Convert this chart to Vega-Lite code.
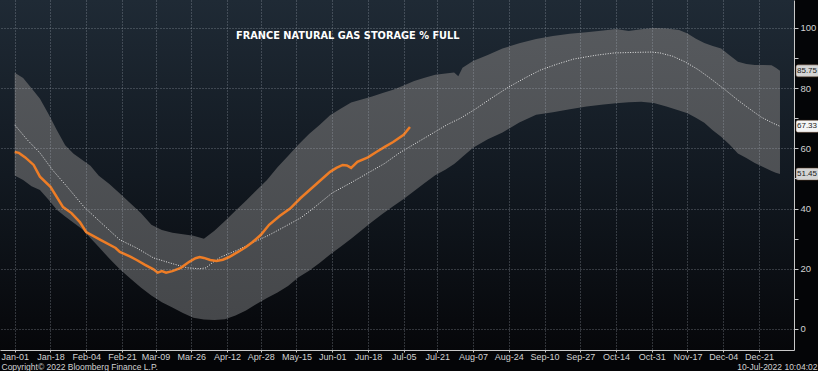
{
  "$schema": "https://vega.github.io/schema/vega-lite/v6.json",
  "width": 794,
  "height": 350,
  "autosize": "none",
  "padding": {"left": 0, "top": 0, "right": 24, "bottom": 21},
  "background": "#040507",
  "config": {"view": {"stroke": null}, "font": "DejaVu Sans"},
  "title": {
    "text": "FRANCE NATURAL GAS STORAGE % FULL",
    "anchor": "start",
    "frame": "group",
    "orient": "top",
    "dx": 236,
    "offset": -49,
    "baseline": "alphabetic",
    "font": "DejaVu Sans",
    "fontSize": 9.8,
    "fontWeight": "bold",
    "color": "#ffffff"
  },
  "datasets": {
    "band": [
      {"date": "2022/01/01", "lo": 51.0, "hi": 85.1},
      {"date": "2022/01/05", "lo": 49.5, "hi": 83.4},
      {"date": "2022/01/09", "lo": 47.4, "hi": 80.0},
      {"date": "2022/01/13", "lo": 46.2, "hi": 76.5},
      {"date": "2022/01/17", "lo": 43.0, "hi": 71.5},
      {"date": "2022/01/21", "lo": 39.6, "hi": 66.1},
      {"date": "2022/01/25", "lo": 37.4, "hi": 61.0},
      {"date": "2022/01/29", "lo": 35.3, "hi": 58.2},
      {"date": "2022/02/02", "lo": 33.2, "hi": 56.2},
      {"date": "2022/02/06", "lo": 30.2, "hi": 54.2},
      {"date": "2022/02/10", "lo": 27.2, "hi": 50.9},
      {"date": "2022/02/15", "lo": 23.4, "hi": 48.2},
      {"date": "2022/02/20", "lo": 19.8, "hi": 45.0},
      {"date": "2022/02/25", "lo": 16.8, "hi": 41.8},
      {"date": "2022/03/02", "lo": 13.8, "hi": 38.5},
      {"date": "2022/03/07", "lo": 11.1, "hi": 34.6},
      {"date": "2022/03/12", "lo": 8.9, "hi": 32.9},
      {"date": "2022/03/17", "lo": 7.1, "hi": 32.0},
      {"date": "2022/03/22", "lo": 5.3, "hi": 31.5},
      {"date": "2022/03/27", "lo": 3.7, "hi": 31.0},
      {"date": "2022/04/01", "lo": 3.1, "hi": 30.0},
      {"date": "2022/04/06", "lo": 3.0, "hi": 32.6},
      {"date": "2022/04/11", "lo": 3.2, "hi": 35.9},
      {"date": "2022/04/16", "lo": 4.5, "hi": 39.3},
      {"date": "2022/04/21", "lo": 6.1, "hi": 42.6},
      {"date": "2022/04/26", "lo": 8.3, "hi": 46.1},
      {"date": "2022/05/01", "lo": 10.3, "hi": 49.5},
      {"date": "2022/05/06", "lo": 12.1, "hi": 53.7},
      {"date": "2022/05/11", "lo": 14.3, "hi": 57.5},
      {"date": "2022/05/16", "lo": 17.2, "hi": 61.3},
      {"date": "2022/05/21", "lo": 19.3, "hi": 64.8},
      {"date": "2022/05/26", "lo": 21.9, "hi": 67.8},
      {"date": "2022/05/31", "lo": 24.7, "hi": 71.0},
      {"date": "2022/06/05", "lo": 27.3, "hi": 73.2},
      {"date": "2022/06/10", "lo": 30.0, "hi": 75.2},
      {"date": "2022/06/15", "lo": 32.8, "hi": 76.2},
      {"date": "2022/06/20", "lo": 35.6, "hi": 77.2},
      {"date": "2022/06/25", "lo": 38.3, "hi": 78.4},
      {"date": "2022/06/30", "lo": 40.8, "hi": 79.5},
      {"date": "2022/07/05", "lo": 43.2, "hi": 80.9},
      {"date": "2022/07/10", "lo": 45.8, "hi": 82.4},
      {"date": "2022/07/15", "lo": 48.5, "hi": 83.5},
      {"date": "2022/07/20", "lo": 51.1, "hi": 84.5},
      {"date": "2022/07/25", "lo": 53.0, "hi": 84.9},
      {"date": "2022/07/29", "lo": 54.8, "hi": 85.2},
      {"date": "2022/07/31", "lo": 56.0, "hi": 84.0},
      {"date": "2022/08/02", "lo": 57.2, "hi": 86.8},
      {"date": "2022/08/07", "lo": 60.2, "hi": 89.0},
      {"date": "2022/08/14", "lo": 63.0, "hi": 91.0},
      {"date": "2022/08/21", "lo": 65.3, "hi": 93.2},
      {"date": "2022/08/29", "lo": 68.6, "hi": 94.9},
      {"date": "2022/09/06", "lo": 71.2, "hi": 96.3},
      {"date": "2022/09/14", "lo": 72.0, "hi": 97.3},
      {"date": "2022/09/22", "lo": 73.0, "hi": 98.1},
      {"date": "2022/09/30", "lo": 73.9, "hi": 98.6},
      {"date": "2022/10/08", "lo": 74.6, "hi": 99.2},
      {"date": "2022/10/14", "lo": 75.0, "hi": 99.7},
      {"date": "2022/10/20", "lo": 75.3, "hi": 99.0},
      {"date": "2022/10/26", "lo": 75.5, "hi": 99.6},
      {"date": "2022/11/01", "lo": 75.1, "hi": 100.0},
      {"date": "2022/11/07", "lo": 73.9, "hi": 99.8},
      {"date": "2022/11/13", "lo": 72.6, "hi": 99.3},
      {"date": "2022/11/17", "lo": 71.7, "hi": 98.2},
      {"date": "2022/11/21", "lo": 70.2, "hi": 96.4},
      {"date": "2022/11/25", "lo": 68.5, "hi": 95.0},
      {"date": "2022/11/29", "lo": 66.0, "hi": 94.0},
      {"date": "2022/12/03", "lo": 63.9, "hi": 93.2},
      {"date": "2022/12/07", "lo": 61.3, "hi": 90.9},
      {"date": "2022/12/11", "lo": 58.3, "hi": 88.8},
      {"date": "2022/12/15", "lo": 56.8, "hi": 88.0},
      {"date": "2022/12/19", "lo": 55.1, "hi": 87.7},
      {"date": "2022/12/23", "lo": 53.8, "hi": 87.7},
      {"date": "2022/12/27", "lo": 52.5, "hi": 87.6},
      {"date": "2022/12/29", "lo": 51.9, "hi": 86.8},
      {"date": "2022/12/31", "lo": 51.45, "hi": 85.75}
    ],
    "avg": [
      {"date": "2022/01/01", "v": 67.8},
      {"date": "2022/01/07", "v": 62.8},
      {"date": "2022/01/13", "v": 58.5},
      {"date": "2022/01/19", "v": 52.8},
      {"date": "2022/01/26", "v": 47.2},
      {"date": "2022/02/03", "v": 40.5},
      {"date": "2022/02/12", "v": 34.7},
      {"date": "2022/02/20", "v": 29.6},
      {"date": "2022/02/28", "v": 26.9},
      {"date": "2022/03/08", "v": 23.6},
      {"date": "2022/03/16", "v": 21.9},
      {"date": "2022/03/24", "v": 20.3},
      {"date": "2022/03/30", "v": 20.0},
      {"date": "2022/04/02", "v": 20.3},
      {"date": "2022/04/05", "v": 22.0},
      {"date": "2022/04/09", "v": 23.9},
      {"date": "2022/04/17", "v": 26.2},
      {"date": "2022/04/24", "v": 28.6},
      {"date": "2022/05/02", "v": 31.2},
      {"date": "2022/05/10", "v": 34.2},
      {"date": "2022/05/17", "v": 36.9},
      {"date": "2022/05/22", "v": 39.5},
      {"date": "2022/06/01", "v": 45.2},
      {"date": "2022/06/10", "v": 48.6},
      {"date": "2022/06/18", "v": 51.8},
      {"date": "2022/06/26", "v": 55.0},
      {"date": "2022/07/03", "v": 58.5},
      {"date": "2022/07/11", "v": 61.8},
      {"date": "2022/07/19", "v": 65.1},
      {"date": "2022/07/26", "v": 68.0},
      {"date": "2022/08/01", "v": 70.0},
      {"date": "2022/08/08", "v": 73.0},
      {"date": "2022/08/16", "v": 76.8},
      {"date": "2022/08/24", "v": 80.4},
      {"date": "2022/09/01", "v": 83.5},
      {"date": "2022/09/08", "v": 86.0},
      {"date": "2022/09/16", "v": 88.0},
      {"date": "2022/09/24", "v": 89.7},
      {"date": "2022/10/04", "v": 90.9},
      {"date": "2022/10/13", "v": 91.7},
      {"date": "2022/10/23", "v": 91.9},
      {"date": "2022/10/31", "v": 92.0},
      {"date": "2022/11/04", "v": 91.7},
      {"date": "2022/11/10", "v": 90.6},
      {"date": "2022/11/16", "v": 88.7},
      {"date": "2022/11/22", "v": 86.2},
      {"date": "2022/11/27", "v": 83.7},
      {"date": "2022/12/05", "v": 79.4},
      {"date": "2022/12/11", "v": 76.0},
      {"date": "2022/12/16", "v": 73.4},
      {"date": "2022/12/22", "v": 70.4},
      {"date": "2022/12/27", "v": 68.6},
      {"date": "2022/12/31", "v": 67.33}
    ],
    "cur": [
      {"date": "2022/01/01", "v": 58.8},
      {"date": "2022/01/03", "v": 58.5},
      {"date": "2022/01/06", "v": 57.0},
      {"date": "2022/01/10", "v": 54.5},
      {"date": "2022/01/13", "v": 50.6},
      {"date": "2022/01/18", "v": 47.2},
      {"date": "2022/01/24", "v": 40.5},
      {"date": "2022/01/28", "v": 38.5},
      {"date": "2022/02/01", "v": 35.5},
      {"date": "2022/02/04", "v": 32.2},
      {"date": "2022/02/11", "v": 29.5},
      {"date": "2022/02/18", "v": 26.9},
      {"date": "2022/02/20", "v": 25.6},
      {"date": "2022/02/25", "v": 24.0},
      {"date": "2022/02/28", "v": 22.9},
      {"date": "2022/03/04", "v": 21.3},
      {"date": "2022/03/08", "v": 19.8},
      {"date": "2022/03/10", "v": 18.7},
      {"date": "2022/03/12", "v": 19.2},
      {"date": "2022/03/14", "v": 18.7},
      {"date": "2022/03/17", "v": 19.2},
      {"date": "2022/03/21", "v": 20.3},
      {"date": "2022/03/25", "v": 22.3},
      {"date": "2022/03/28", "v": 23.5},
      {"date": "2022/03/30", "v": 23.9},
      {"date": "2022/04/01", "v": 23.6},
      {"date": "2022/04/04", "v": 22.9},
      {"date": "2022/04/07", "v": 22.6},
      {"date": "2022/04/10", "v": 23.0},
      {"date": "2022/04/13", "v": 23.9},
      {"date": "2022/04/17", "v": 25.5},
      {"date": "2022/04/21", "v": 27.2},
      {"date": "2022/04/24", "v": 28.8},
      {"date": "2022/04/28", "v": 31.2},
      {"date": "2022/05/02", "v": 34.6},
      {"date": "2022/05/07", "v": 37.5},
      {"date": "2022/05/12", "v": 40.0},
      {"date": "2022/05/17", "v": 43.5},
      {"date": "2022/05/21", "v": 46.0},
      {"date": "2022/05/25", "v": 48.5},
      {"date": "2022/05/31", "v": 52.2},
      {"date": "2022/06/03", "v": 53.5},
      {"date": "2022/06/06", "v": 54.5},
      {"date": "2022/06/08", "v": 54.3},
      {"date": "2022/06/10", "v": 53.5},
      {"date": "2022/06/13", "v": 55.5},
      {"date": "2022/06/18", "v": 57.0},
      {"date": "2022/06/22", "v": 58.8},
      {"date": "2022/06/26", "v": 60.5},
      {"date": "2022/06/30", "v": 62.1},
      {"date": "2022/07/05", "v": 64.5},
      {"date": "2022/07/08", "v": 67.1}
    ],
    "ends": [
      {"label": "85.75", "v": 85.75, "kind": "max"},
      {"label": "67.33", "v": 67.33, "kind": "avg"},
      {"label": "51.45", "v": 51.45, "kind": "min"}
    ]
  },
  "layer": [
    {
      "data": {"values": [{}]},
      "mark": {
        "type": "rect",
        "x2Offset": 24,
        "color": {
          "gradient": "linear", "x1": 0, "y1": 0, "x2": 0, "y2": 1,
          "stops": [
            {"offset": 0, "color": "#1f2a35"},
            {"offset": 0.5, "color": "#121921"},
            {"offset": 1, "color": "#06070a"}
          ]
        }
      },
      "encoding": {}
    },
    {
      "data": {"name": "band"},
      "mark": {
        "type": "area",
        "color": {
          "gradient": "linear", "x1": 0, "y1": 0, "x2": 0, "y2": 1,
          "stops": [
            {"offset": 0, "color": "#56595d"},
            {"offset": 1, "color": "#45474a"}
          ]
        }
      },
      "encoding": {
        "x": {
          "field": "date",
          "type": "temporal",
          "scale": {"domain": [{"year": 2021, "month": 12, "date": 25}, {"year": 2023, "month": 1, "date": 6, "hours": 16}]},
          "axis": {
            "orient": "bottom",
            "zindex": 1,
            "tickCount": 40,
            "values": [
              {"year": 2022, "month": 1, "date": 1},
              {"year": 2022, "month": 1, "date": 18},
              {"year": 2022, "month": 2, "date": 4},
              {"year": 2022, "month": 2, "date": 21},
              {"year": 2022, "month": 3, "date": 9},
              {"year": 2022, "month": 3, "date": 26},
              {"year": 2022, "month": 4, "date": 12},
              {"year": 2022, "month": 4, "date": 28},
              {"year": 2022, "month": 5, "date": 15},
              {"year": 2022, "month": 6, "date": 1},
              {"year": 2022, "month": 6, "date": 18},
              {"year": 2022, "month": 7, "date": 5},
              {"year": 2022, "month": 7, "date": 21},
              {"year": 2022, "month": 8, "date": 7},
              {"year": 2022, "month": 8, "date": 24},
              {"year": 2022, "month": 9, "date": 10},
              {"year": 2022, "month": 9, "date": 27},
              {"year": 2022, "month": 10, "date": 14},
              {"year": 2022, "month": 10, "date": 31},
              {"year": 2022, "month": 11, "date": 17},
              {"year": 2022, "month": 12, "date": 4},
              {"year": 2022, "month": 12, "date": 21}
            ],
            "format": "%b-%d",
            "labelFont": "Liberation Sans, sans-serif",
            "labelFontSize": 9,
            "labelColor": "#d2d2d2",
            "labelPadding": 0,
            "labelBaseline": "top",
            "labelOverlap": false,
            "labelFlush": false,
            "tickSize": 2,
            "tickColor": "#c8c8c8",
            "domainColor": "#c8c8c8",
            "grid": true,
            "gridColor": "#b4bec8",
            "gridOpacity": 0.5,
            "gridDash": [1, 2],
            "title": "Copyright© 2022 Bloomberg Finance L.P.",
            "titleFont": "Liberation Sans, sans-serif",
            "titleFontSize": 8.5,
            "titleFontWeight": "normal",
            "titleColor": "#d2d2d2",
            "titleAnchor": "start",
            "titleAlign": "left",
            "titleBaseline": "alphabetic",
            "titleX": 1,
            "titleY": 19
          }
        },
        "y": {
          "field": "lo",
          "type": "quantitative",
          "scale": {"domain": [-7, 109.3], "nice": false, "zero": false},
          "axis": {
            "orient": "right",
            "zindex": 1,
            "tickCount": 30,
            "values": [0, 10, 20, 30, 40, 50, 60, 70, 80, 90, 100],
            "labelExpr": "datum.value % 20 === 0 ? datum.label : ''",
            "labelFont": "Liberation Sans, sans-serif",
            "labelFontSize": 9.5,
            "labelColor": "#d2d2d2",
            "labelPadding": 2,
            "tickSize": 4,
            "tickColor": "#c8c8c8",
            "domainColor": "#c8c8c8",
            "grid": true,
            "gridColor": "#b4bec8",
            "gridOpacity": {"condition": {"test": "datum.value % 20 === 0", "value": 0.5}, "value": 0},
            "gridDash": [1, 2],
            "title": "10-Jul-2022 10:04:02",
            "titleFont": "Liberation Sans, sans-serif",
            "titleFontSize": 8.5,
            "titleFontWeight": "normal",
            "titleColor": "#d2d2d2",
            "titleAngle": 0,
            "titleAlign": "right",
            "titleBaseline": "alphabetic",
            "titleX": 23,
            "titleY": 369
          }
        },
        "y2": {"field": "hi"}
      }
    },
    {
      "data": {"name": "avg"},
      "mark": {"type": "line", "color": "#e6e6e6", "strokeWidth": 1, "strokeDash": [1, 1.5]},
      "encoding": {
        "x": {"field": "date", "type": "temporal"},
        "y": {"field": "v", "type": "quantitative"}
      }
    },
    {
      "data": {"name": "cur"},
      "mark": {"type": "line", "color": "#ee7d26", "strokeWidth": 2.5},
      "encoding": {
        "x": {"field": "date", "type": "temporal"},
        "y": {"field": "v", "type": "quantitative"}
      }
    },
    {
      "data": {"name": "ends"},
      "mark": {"type": "rect", "xOffset": 2, "x2Offset": 25, "yOffset": -6, "y2Offset": 6, "cornerRadius": 2, "stroke": "#6b4a34", "strokeWidth": 0.5},
      "encoding": {
        "x": {"datum": {"year": 2023, "month": 1, "date": 6, "hours": 16}, "type": "temporal"},
        "x2": {"datum": {"year": 2023, "month": 1, "date": 6, "hours": 16}},
        "y": {"field": "v", "type": "quantitative"},
        "y2": {"field": "v"},
        "color": {"field": "kind", "type": "nominal", "scale": {"domain": ["max", "avg", "min"], "range": ["#d4d4d4", "#f4f4f4", "#d4d4d4"]}, "legend": null}
      }
    },
    {
      "data": {"name": "ends"},
      "mark": {"type": "text", "dx": 13, "align": "center", "baseline": "middle", "font": "Liberation Sans, sans-serif", "fontSize": 8, "color": "#1a1a1a"},
      "encoding": {
        "x": {"datum": {"year": 2023, "month": 1, "date": 6, "hours": 16}, "type": "temporal"},
        "y": {"field": "v", "type": "quantitative"},
        "text": {"field": "label"}
      }
    }
  ]
}
